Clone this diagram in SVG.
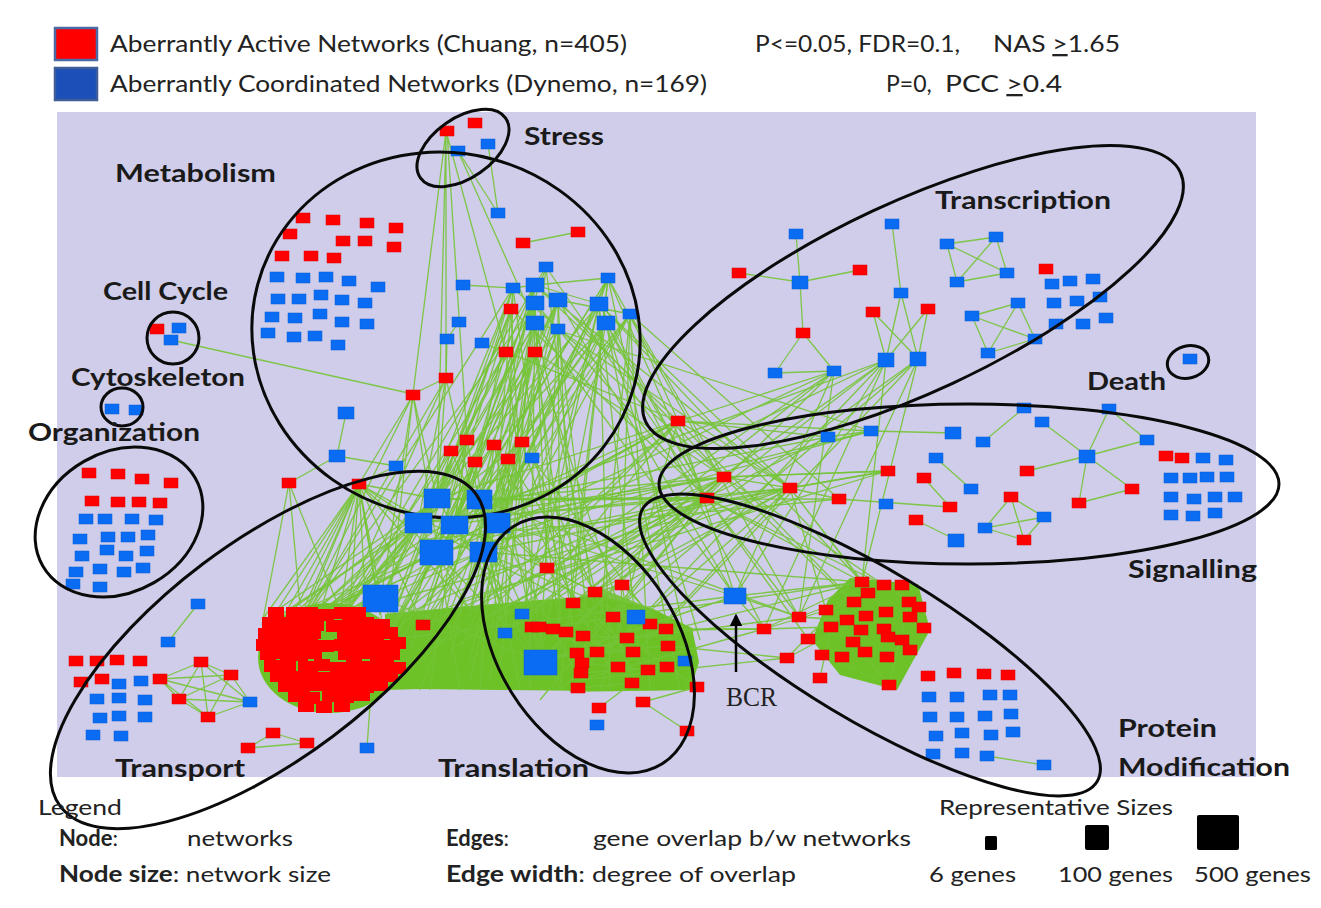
<svg xmlns="http://www.w3.org/2000/svg" xmlns:xlink="http://www.w3.org/1999/xlink" width="1321" height="908" viewBox="0 0 1321 908">
<style>
.t{font-family:Lato,"Liberation Sans",sans-serif;fill:#222}
.lb{font-family:Lato,"Liberation Sans",sans-serif;font-weight:bold;font-size:25px;fill:#1a1a1a}
.ring{fill:none;stroke:#0a0a0a;stroke-width:3}
.e{fill:none;stroke:#74c436;stroke-width:1.3;stroke-opacity:0.9}
.r{fill:#ff0000;stroke:#e00000;stroke-width:0.5}
.b{fill:#0a6cf2;stroke:#0a5ed6;stroke-width:0.5}
.gf{fill:#6cc226}
</style>
<defs>
<rect id="R" x="-7" y="-5" width="14" height="10" class="r"/>
<rect id="B" x="-7" y="-5" width="14" height="10" class="b"/>
<rect id="BM" x="-9" y="-7" width="18" height="14" class="b"/>
<rect id="RC" x="0" y="0" width="16" height="12" fill="#ff0000"/>
<marker id="arr" viewBox="0 0 10 10" refX="8" refY="5" markerWidth="5" markerHeight="5" orient="auto">
<path d="M0 0L10 5L0 10Z" fill="#000"/>
</marker>
</defs>

<rect x="0" y="0" width="1321" height="908" fill="#ffffff"/>
<rect x="57" y="112" width="1199" height="665" fill="#cfcde9"/>

<g id="legend-top">
<rect x="55" y="28" width="42" height="32" fill="#ff0000" stroke="#4a6aa5" stroke-width="2.5"/>
<rect x="55" y="68" width="42" height="32" fill="#1c4fb8" stroke="#3d5d9a" stroke-width="2.5"/>
<text class="t" x="110" y="52" font-size="23" textLength="517" lengthAdjust="spacingAndGlyphs">Aberrantly Active Networks (Chuang, n=405)</text>
<text class="t" x="110" y="92" font-size="23" textLength="597" lengthAdjust="spacingAndGlyphs">Aberrantly Coordinated Networks (Dynemo, n=169)</text>
<text class="t" x="755" y="52" font-size="23" textLength="205" lengthAdjust="spacingAndGlyphs">P&lt;=0.05, FDR=0.1,</text>
<text class="t" x="993" y="52" font-size="23" textLength="127" lengthAdjust="spacingAndGlyphs">NAS <tspan text-decoration="underline">&gt;</tspan>1.65</text>
<text class="t" x="886" y="92" font-size="23">P=0,</text>
<text class="t" x="945" y="92" font-size="23" textLength="117" lengthAdjust="spacingAndGlyphs">PCC <tspan text-decoration="underline">&gt;</tspan>0.4</text>
</g>

<g id="connectors">
<path class="gf" d="M385 614L470 606L540 600L600 596L655 610L692 628L699 662L690 690L600 691L500 690L420 689L385 690Z"/>
<ellipse class="gf" cx="330" cy="658" rx="72" ry="55"/>
<path class="gf" opacity="0.85" d="M530 620L600 588L660 612L692 640L684 690L570 692Z"/>
<path class="gf" d="M850 578L918 584L930 630L897 690L840 675L812 640L828 600Z"/>
<path class="e" d="M488 144L498 213M458 151L498 213M523 243L578 232M463 285L513 288M513 288L535 285M546 267L535 285M535 285L608 278M608 278L599 304M535 285L599 304M558 300L630 314M459 322L447 339M447 339L446 378M482 343L506 352M446 378L413 394M346 413L337 456M337 456L396 466M337 456L289 483M171 340L413 394"/>
<path class="e" d="M446 131L413 394M446 131L446 378M446 131L506 352M458 151L535 323M446 131L437 499M447 131L467 440"/>
<path class="e" d="M198 604L168 642M201 662L160 679M201 662L231 675M201 662L179 699M201 662L208 717M201 662L250 702M160 679L231 675M160 679L179 699M160 679L208 717M160 679L250 702M231 675L179 699M231 675L208 717M231 675L250 702M179 699L208 717M179 699L250 702M208 717L250 702M273 733L248 748M273 733L307 743M248 748L307 743M367 748L370 705"/>
<path class="e" d="M796 234L800 282M739 273L800 282M860 270L800 282M800 282L803 333M803 333L775 373M803 333L834 371M775 373L834 371M892 224L901 293M901 293L886 360M901 293L918 359M873 312L886 360M873 312L918 359M928 309L886 360M928 309L918 359M947 244L996 237M947 244L1007 273M947 244L957 282M996 237L1007 273M996 237L957 282M1007 273L957 282M972 316L1018 303M972 316L1035 339M972 316L988 353M1018 303L1035 339M1018 303L988 353M1035 339L988 353"/>
<path class="e" d="M1024 408L983 442M1042 422L1087 456M1109 409L1087 456M1109 409L1147 440M1147 440L1087 456M1027 471L1087 456M1087 456L1079 503M1087 456L1132 489M1079 503L1132 489M936 458L971 489M888 471L790 488M888 471L724 477M924 478L950 507M839 499L950 507M916 520L956 540M1011 497L985 528M1011 497L1044 517M1011 497L1024 540M985 528L1044 517M985 528L1024 540M1044 517L1024 540M871 431L953 433M828 437L871 431M987 756L1044 765"/>
<path class="e" d="M535 285L437 499M535 285L479 500M535 285L454 525M535 303L418 523M535 303L497 523M535 303L436 552M558 300L479 500M558 300L483 552M558 300L454 525M599 304L497 523M599 304L437 499M599 304L483 552M535 323L418 523M535 323L454 525M535 323L381 598M606 323L479 500M606 323L497 523M606 323L436 552M513 288L437 499M513 288L418 523M608 278L483 552M608 278L454 525M630 314L497 523M630 314L479 500M511 309L436 552M511 309L437 499M558 329L483 552M558 329L418 523M506 352L454 525M506 352L381 598M535 352L437 499M535 352L497 523M446 378L418 523M446 378L437 499M413 395L437 499M413 395L381 598M467 440L454 525M467 440L436 552M494 445L479 500M494 445L483 552M522 442L497 523M522 442L418 523M451 451L437 499M451 451L381 598M475 462L454 525M475 462L436 552M508 459L479 500M508 459L483 552M532 458L497 523M532 458L436 552"/>
<path class="e" d="M535 285L340 615M535 285L505 633M535 303L300 625M535 303L547 568M558 300L385 640M558 300L573 603M599 304L522 614M599 304L423 625M535 323L470 610M535 323L595 592M606 323L540 662M606 323L340 615M513 288L300 625M513 288L505 633M608 278L573 603M608 278L385 640M630 314L620 640M630 314L470 610M511 309L360 690M558 329L540 662M506 352L300 690M535 352L580 680M446 378L340 615M446 378L300 625M413 395L300 625M413 395L385 640M467 440L505 633M494 445L540 662M522 442L573 603M451 451L340 615M475 462L423 625M508 459L595 592M532 458L660 630M467 440L360 690M522 442L470 610M494 445L385 640"/>
<path class="e" d="M535 285L678 421M535 303L706 498M558 300L724 477M599 304L790 488M606 323L707 498M535 323L735 596M630 314L678 421M630 314L724 477M608 278L706 498M558 329L790 488M599 304L862 582M606 323L764 629M535 352L724 477M506 352L678 421M511 309L707 498M546 267L706 498M558 300L735 596M535 285L790 488M608 278L799 617M599 304L707 498M630 314L839 499M535 323L871 431M513 288L724 477"/>
<path class="e" d="M437 499L300 625M437 499L340 615M437 499L385 640M437 499L540 662M479 500L300 625M479 500L360 690M479 500L547 568M479 500L505 633M418 523L300 690M418 523L340 615M418 523L470 610M418 523L573 603M454 525L385 640M454 525L300 625M454 525L522 614M454 525L595 592M497 523L340 615M497 523L580 680M497 523L620 640M497 523L423 625M436 552L300 625M436 552L360 690M436 552L540 662M483 552L385 640M483 552L300 690M483 552L660 630M381 598L300 625M381 598L540 662M359 484L300 625M359 484L340 615M359 484L385 640M359 484L437 499M359 484L418 523M359 484L436 552M359 484L381 598M359 484L470 610M359 484L483 552M359 484L270 640M359 484L423 625M359 484L290 620"/>
<path class="e" d="M359 484L262 620M359 484L276 612M359 484L305 606M359 484L322 606M359 484L350 606M359 484L366 610M359 484L380 615M437 499L270 615M437 499L300 608M437 499L330 606M437 499L360 608M418 523L265 625M418 523L290 610M418 523L320 607M418 523L350 607M436 552L262 640M436 552L290 615M436 552L330 610M436 552L395 640M483 552L320 608M483 552L350 612M289 483L262 625M289 483L300 606M289 483L340 610M359 484L396 466M359 484L413 395"/>
<path class="e" d="M535 285L410 650M535 285L450 660M535 303L490 640M535 303L530 690M558 300L470 680M558 300L560 650M599 304L610 690M599 304L640 660M606 323L680 690M606 323L700 640M630 314L600 620M630 314L650 690M546 267L430 600M546 267L500 670M608 278L560 690M608 278L450 620M513 288L410 620M513 288L480 690M511 309L440 640M511 309L530 650M558 329L600 660M558 329L420 690M535 323L560 610M535 323L490 680M599 304L530 620M606 323L460 650M630 314L400 640M546 267L590 640M608 278L690 660M513 288L560 630M467 440L430 690M494 445L610 670M522 442L470 660M451 451L560 690M475 462L520 690M508 459L450 640M532 458L640 690M446 378L500 620M413 395L460 690M506 352L540 640M535 352L420 660M535 352L620 610"/>
<path class="e" d="M724 477L450 650M724 477L520 680M706 498L410 660M706 498L480 620M790 488L560 690M790 488L440 610M678 421L400 680M678 421L500 600M707 498L540 700M724 477L380 625M790 488L620 670M678 421L600 690M834 371L470 660M886 360L520 620M918 359L580 640M834 371L430 560M886 360L450 520M871 431L480 540M828 437L500 500M839 499L420 540M888 471L460 600M706 498L437 499M724 477L418 523M678 421L436 552M790 488L483 552"/>
<path class="e" d="M437 499L706 498M479 500L724 477M418 523L790 488M454 525L678 421M497 523L735 596M436 552L707 498M483 552L862 582M479 500L799 617M497 523L678 421M454 525L724 477M437 499L834 371M483 552L886 360M497 523L871 431M418 523L706 498M436 552L790 488M479 500L839 499"/>
<path class="e" d="M540 662L735 596M540 662L862 582M547 568L706 498M573 603L724 477M595 592L790 488M522 614L678 421M620 640L799 617M660 630L764 629M505 633L707 498M580 680L787 658M470 610L724 477M423 625L706 498M385 640L735 596M340 615L790 488M300 625L678 421M540 662L834 371M573 603L886 360M595 592L918 359M620 640L886 360M660 630L918 359M547 568L834 371M505 633L862 582M580 680L764 629"/>
<path class="e" d="M735 596L862 582M735 596L799 617M735 596L764 629M706 498L862 582M724 477L866 616M790 488L862 582M790 488L886 612M678 421L735 596M707 498L799 617M834 371L735 596M886 360L764 629M918 359L799 617M918 359L862 582M886 360L735 596M678 421L790 488M724 477L790 488M707 498L790 488M790 488L839 499M790 488L888 471M724 477L888 471M678 421L871 431M678 421L828 437M706 498L828 437M787 658L862 582M764 629L831 627M799 617L847 620M706 498L884 585M724 477L909 602M678 421L854 602M790 488L826 610M707 498L808 639M834 371L799 617M886 360L862 582"/>
<path class="e" d="M547 568L595 592M595 592L622 585M573 603L613 617M613 617L650 624M622 585L666 629M532 627L583 636M583 636L627 638M577 653L633 652M597 652L668 646M582 663L648 670M581 673L667 667M578 688L632 683M643 702L687 731M643 702L697 687M599 708L632 683M595 592L666 629M573 603L648 670M613 617L578 688M622 585L633 652M650 624L582 663M566 632L667 667M553 629L618 667M627 638L697 687M540 662L666 629M540 662L650 624M622 585L790 488M650 624L735 596M666 629L764 629M668 646L787 658M595 592L724 477M613 617L706 498"/>
<path class="e" d="M764 629L862 582M799 617L884 585M787 658L866 616M820 678L831 627M889 685L853 642M889 685L909 602M889 685L822 655M764 629L854 602"/>
</g>

<g id="stress">
<use href="#R" x="447" y="131"/><use href="#R" x="475" y="123"/><use href="#B" x="458" y="151"/><use href="#B" x="488" y="144"/><use href="#B" x="498" y="213"/>
<ellipse class="ring" cx="463" cy="148" rx="52" ry="30" transform="rotate(-35 463 148)"/>
<text class="lb" x="524" y="145" textLength="80" lengthAdjust="spacingAndGlyphs">Stress</text>
</g>

<g id="metabolism">
<use href="#R" x="303" y="218"/><use href="#R" x="333" y="220"/><use href="#R" x="367" y="223"/><use href="#R" x="396" y="228"/><use href="#R" x="290" y="234"/><use href="#R" x="343" y="241"/><use href="#R" x="365" y="241"/><use href="#R" x="394" y="247"/><use href="#R" x="282" y="256"/><use href="#R" x="311" y="256"/><use href="#R" x="334" y="258"/>
<use href="#B" x="277" y="277"/><use href="#B" x="303" y="278"/><use href="#B" x="326" y="277"/><use href="#B" x="349" y="281"/><use href="#B" x="378" y="287"/><use href="#B" x="278" y="299"/><use href="#B" x="299" y="299"/><use href="#B" x="321" y="295"/><use href="#B" x="342" y="300"/><use href="#B" x="365" y="303"/><use href="#B" x="272" y="317"/><use href="#B" x="295" y="318"/><use href="#B" x="320" y="314"/><use href="#B" x="342" y="322"/><use href="#B" x="367" y="324"/><use href="#B" x="268" y="333"/><use href="#B" x="294" y="337"/><use href="#B" x="315" y="336"/><use href="#B" x="338" y="345"/>
<use href="#R" x="523" y="243"/><use href="#R" x="578" y="232"/><use href="#R" x="511" y="309"/><use href="#R" x="506" y="352"/><use href="#R" x="535" y="352"/><use href="#R" x="446" y="378"/><use href="#R" x="413" y="395"/>
<use href="#B" x="546" y="267"/><use href="#B" x="608" y="278"/><use href="#B" x="463" y="285"/><use href="#B" x="513" y="288"/><use href="#B" x="558" y="329"/><use href="#B" x="630" y="314"/><use href="#B" x="459" y="322"/><use href="#B" x="447" y="339"/><use href="#B" x="482" y="343"/>
<use href="#BM" x="535" y="285"/><use href="#BM" x="535" y="303"/><use href="#BM" x="558" y="300"/><use href="#BM" x="599" y="304"/><use href="#BM" x="535" y="323"/><use href="#BM" x="606" y="323"/>
<rect class="b" x="338" y="407" width="16" height="12"/><rect class="b" x="329" y="450" width="16" height="12"/><use href="#B" x="396" y="466"/><use href="#R" x="289" y="483"/><use href="#R" x="359" y="484"/>
<ellipse class="ring" cx="446" cy="335" rx="195" ry="182" transform="rotate(15 446 335)"/>
<text class="lb" x="115" y="182" textLength="161" lengthAdjust="spacingAndGlyphs">Metabolism</text>
</g>

<g id="core">
<use href="#R" x="467" y="440"/><use href="#R" x="494" y="445"/><use href="#R" x="522" y="442"/><use href="#R" x="451" y="451"/><use href="#R" x="475" y="462"/><use href="#R" x="508" y="459"/><use href="#B" x="532" y="458"/><use href="#R" x="678" y="421"/>
<rect class="b" x="424" y="489" width="26" height="19"/><rect class="b" x="467" y="490" width="25" height="19"/><rect class="b" x="405" y="513" width="27" height="20"/><rect class="b" x="441" y="516" width="27" height="18"/><rect class="b" x="484" y="513" width="26" height="20"/><rect class="b" x="420" y="540" width="33" height="25"/><rect class="b" x="470" y="542" width="27" height="20"/><rect class="b" x="363" y="585" width="35" height="27"/>
</g>

<g id="cell-cycle">
<use href="#R" x="157" y="329"/><use href="#B" x="179" y="328"/><use href="#B" x="171" y="340"/>
<circle class="ring" cx="173" cy="338" r="26"/>
<text class="lb" x="103" y="300" textLength="125" lengthAdjust="spacingAndGlyphs">Cell Cycle</text>
</g>

<g id="cytoskeleton">
<use href="#B" x="112" y="409"/><use href="#B" x="136" y="410"/>
<ellipse class="ring" cx="122" cy="407" rx="21" ry="19"/>
<text class="lb" x="71" y="386" textLength="174" lengthAdjust="spacingAndGlyphs">Cytoskeleton</text>
</g>

<g id="organization">
<use href="#R" x="89" y="473"/><use href="#R" x="118" y="474"/><use href="#R" x="142" y="479"/><use href="#R" x="171" y="483"/><use href="#R" x="92" y="501"/><use href="#R" x="118" y="502"/><use href="#R" x="139" y="502"/><use href="#R" x="160" y="503"/>
<use href="#B" x="86" y="519"/><use href="#B" x="105" y="519"/><use href="#B" x="132" y="519"/><use href="#B" x="156" y="520"/><use href="#B" x="80" y="539"/><use href="#B" x="108" y="537"/><use href="#B" x="128" y="537"/><use href="#B" x="148" y="535"/><use href="#B" x="82" y="556"/><use href="#B" x="107" y="550"/><use href="#B" x="126" y="556"/><use href="#B" x="147" y="551"/><use href="#B" x="76" y="572"/><use href="#B" x="100" y="569"/><use href="#B" x="124" y="572"/><use href="#B" x="143" y="568"/><use href="#B" x="73" y="584"/><use href="#B" x="100" y="587"/>
<ellipse class="ring" cx="119" cy="522" rx="88" ry="70" transform="rotate(-30 119 522)"/>
<text class="lb" x="28" y="441" textLength="172" lengthAdjust="spacingAndGlyphs">Organization</text>
</g>

<g id="transport">
<use href="#B" x="198" y="604"/><use href="#B" x="168" y="642"/>
<use href="#R" x="76" y="661"/><use href="#R" x="97" y="661"/><use href="#R" x="117" y="660"/><use href="#R" x="140" y="661"/><use href="#R" x="81" y="682"/><use href="#R" x="102" y="679"/><use href="#B" x="119" y="684"/><use href="#B" x="141" y="681"/><use href="#B" x="97" y="699"/><use href="#B" x="119" y="698"/><use href="#B" x="145" y="700"/><use href="#B" x="100" y="718"/><use href="#B" x="119" y="716"/><use href="#B" x="145" y="717"/><use href="#B" x="93" y="735"/><use href="#B" x="121" y="736"/>
<use href="#R" x="201" y="662"/><use href="#R" x="160" y="679"/><use href="#R" x="231" y="675"/><use href="#R" x="179" y="699"/><use href="#R" x="208" y="717"/><use href="#B" x="250" y="702"/>
<use href="#R" x="273" y="733"/><use href="#R" x="248" y="748"/><use href="#R" x="307" y="743"/><use href="#B" x="367" y="748"/>
<use href="#RC" x="268" y="607"/><use href="#RC" x="286" y="607"/><use href="#RC" x="302" y="607"/><use href="#RC" x="318" y="609"/><use href="#RC" x="334" y="607"/><use href="#RC" x="350" y="607"/>
<use href="#RC" x="262" y="617"/><use href="#RC" x="278" y="617"/><use href="#RC" x="294" y="617"/><use href="#RC" x="308" y="619"/><use href="#RC" x="326" y="620"/><use href="#RC" x="342" y="617"/><use href="#RC" x="358" y="617"/><use href="#RC" x="374" y="619"/>
<use href="#RC" x="258" y="628"/><use href="#RC" x="274" y="627"/><use href="#RC" x="290" y="629"/><use href="#RC" x="305" y="627"/><use href="#RC" x="337" y="628"/><use href="#RC" x="352" y="627"/><use href="#RC" x="368" y="629"/><use href="#RC" x="382" y="627"/>
<use href="#RC" x="256" y="639"/><use href="#RC" x="270" y="637"/><use href="#RC" x="286" y="638"/><use href="#RC" x="302" y="637"/><use href="#RC" x="318" y="640"/><use href="#RC" x="334" y="639"/><use href="#RC" x="348" y="637"/><use href="#RC" x="364" y="638"/><use href="#RC" x="378" y="640"/><use href="#RC" x="390" y="637"/>
<use href="#RC" x="260" y="648"/><use href="#RC" x="276" y="647"/><use href="#RC" x="292" y="649"/><use href="#RC" x="306" y="647"/><use href="#RC" x="338" y="648"/><use href="#RC" x="354" y="647"/><use href="#RC" x="370" y="649"/><use href="#RC" x="384" y="648"/>
<use href="#RC" x="264" y="660"/><use href="#RC" x="280" y="659"/><use href="#RC" x="298" y="661"/><use href="#RC" x="314" y="659"/><use href="#RC" x="330" y="662"/><use href="#RC" x="346" y="659"/><use href="#RC" x="362" y="661"/><use href="#RC" x="378" y="659"/><use href="#RC" x="390" y="662"/>
<use href="#RC" x="270" y="670"/><use href="#RC" x="286" y="671"/><use href="#RC" x="302" y="669"/><use href="#RC" x="318" y="672"/><use href="#RC" x="334" y="670"/><use href="#RC" x="350" y="669"/><use href="#RC" x="366" y="671"/><use href="#RC" x="382" y="670"/>
<use href="#RC" x="278" y="680"/><use href="#RC" x="294" y="681"/><use href="#RC" x="310" y="679"/><use href="#RC" x="326" y="682"/><use href="#RC" x="342" y="680"/><use href="#RC" x="358" y="681"/><use href="#RC" x="372" y="679"/>
<use href="#RC" x="288" y="690"/><use href="#RC" x="304" y="692"/><use href="#RC" x="322" y="690"/><use href="#RC" x="338" y="691"/><use href="#RC" x="354" y="689"/>
<use href="#RC" x="298" y="700"/><use href="#RC" x="316" y="701"/><use href="#RC" x="334" y="700"/>
<ellipse class="ring" cx="268" cy="650" rx="260" ry="108" transform="rotate(-37 268 650)"/>
<text class="lb" x="115" y="777" textLength="130" lengthAdjust="spacingAndGlyphs">Transport</text>
</g>

<g id="translation">
<use href="#R" x="547" y="568"/><use href="#R" x="595" y="592"/><use href="#R" x="622" y="585"/><use href="#R" x="573" y="603"/><use href="#R" x="613" y="617"/><use href="#R" x="650" y="624"/><use href="#R" x="666" y="629"/><use href="#R" x="532" y="627"/><use href="#R" x="539" y="627"/><use href="#R" x="553" y="629"/><use href="#R" x="566" y="632"/><use href="#R" x="583" y="636"/><use href="#R" x="627" y="638"/><use href="#R" x="577" y="653"/><use href="#R" x="597" y="652"/><use href="#R" x="633" y="652"/><use href="#R" x="668" y="646"/><use href="#R" x="582" y="663"/><use href="#R" x="581" y="673"/><use href="#R" x="618" y="667"/><use href="#R" x="648" y="670"/><use href="#R" x="667" y="667"/><use href="#R" x="632" y="683"/><use href="#R" x="578" y="688"/><use href="#R" x="643" y="702"/><use href="#R" x="599" y="708"/><use href="#R" x="687" y="731"/><use href="#R" x="697" y="687"/><use href="#R" x="423" y="625"/>
<use href="#B" x="522" y="614"/><use href="#B" x="505" y="633"/><rect class="b" x="627" y="610" width="18" height="14"/><use href="#B" x="685" y="661"/><use href="#B" x="597" y="725"/>
<rect class="b" x="524" y="650" width="33" height="25"/>
<ellipse class="ring" cx="588" cy="645" rx="140" ry="90" transform="rotate(58 588 645)"/>
<text class="lb" x="438" y="777" textLength="151" lengthAdjust="spacingAndGlyphs">Translation</text>
</g>

<g id="transcription">
<use href="#B" x="796" y="234"/><use href="#R" x="739" y="273"/><rect class="b" x="792" y="276" width="16" height="13"/><use href="#R" x="860" y="270"/><use href="#R" x="803" y="333"/><use href="#B" x="775" y="373"/><use href="#B" x="834" y="371"/><use href="#B" x="892" y="224"/><use href="#B" x="901" y="293"/><use href="#R" x="873" y="312"/><use href="#R" x="928" y="309"/><rect class="b" x="878" y="353" width="16" height="14"/><rect class="b" x="910" y="352" width="16" height="14"/>
<use href="#B" x="947" y="244"/><use href="#B" x="996" y="237"/><use href="#B" x="1007" y="273"/><use href="#B" x="957" y="282"/><use href="#B" x="972" y="316"/><use href="#B" x="1018" y="303"/><use href="#B" x="1035" y="339"/><use href="#B" x="988" y="353"/>
<use href="#R" x="1046" y="269"/><use href="#B" x="1052" y="284"/><use href="#B" x="1070" y="281"/><use href="#B" x="1093" y="279"/><use href="#B" x="1054" y="303"/><use href="#B" x="1077" y="301"/><use href="#B" x="1100" y="297"/><use href="#B" x="1056" y="324"/><use href="#B" x="1083" y="324"/><use href="#B" x="1106" y="318"/>
<ellipse class="ring" cx="913" cy="297" rx="295" ry="95" transform="rotate(-25 913 297)"/>
<text class="lb" x="935" y="209" textLength="176" lengthAdjust="spacingAndGlyphs">Transcription</text>
</g>

<g id="death">
<use href="#B" x="1190" y="359"/>
<ellipse class="ring" cx="1188" cy="362" rx="21" ry="16" transform="rotate(-15 1188 362)"/>
<text class="lb" x="1087" y="390" textLength="79" lengthAdjust="spacingAndGlyphs">Death</text>
</g>

<g id="signalling">
<use href="#B" x="1024" y="408"/><use href="#B" x="1109" y="409"/><use href="#B" x="1042" y="422"/><use href="#B" x="828" y="437"/><use href="#B" x="871" y="431"/><rect class="b" x="945" y="427" width="16" height="12"/><use href="#B" x="983" y="442"/><use href="#B" x="1147" y="440"/><rect class="b" x="1079" y="450" width="16" height="13"/><use href="#B" x="936" y="458"/>
<use href="#R" x="1027" y="471"/><use href="#R" x="888" y="471"/><use href="#R" x="924" y="478"/><use href="#R" x="724" y="477"/><use href="#R" x="790" y="488"/><use href="#R" x="707" y="498"/><use href="#R" x="839" y="499"/><use href="#B" x="971" y="489"/><use href="#R" x="1132" y="489"/><use href="#R" x="1011" y="497"/><use href="#R" x="1079" y="503"/><use href="#B" x="886" y="504"/><use href="#R" x="950" y="507"/><use href="#R" x="916" y="520"/><use href="#B" x="1044" y="517"/><use href="#B" x="985" y="528"/><use href="#R" x="1024" y="540"/><rect class="b" x="948" y="534" width="16" height="13"/>
<use href="#R" x="1166" y="456"/><use href="#R" x="1182" y="458"/><use href="#B" x="1203" y="458"/><use href="#B" x="1226" y="460"/><use href="#B" x="1171" y="478"/><use href="#B" x="1190" y="478"/><use href="#B" x="1207" y="477"/><use href="#B" x="1227" y="477"/><use href="#B" x="1171" y="497"/><use href="#B" x="1194" y="499"/><use href="#B" x="1215" y="497"/><use href="#B" x="1235" y="497"/><use href="#B" x="1171" y="515"/><use href="#B" x="1193" y="516"/><use href="#B" x="1215" y="513"/>
<ellipse class="ring" cx="969" cy="484" rx="310" ry="80"/>
<text class="lb" x="1128" y="578" textLength="129" lengthAdjust="spacingAndGlyphs">Signalling</text>
</g>

<g id="protein-modification">
<use href="#R" x="862" y="582"/><use href="#R" x="884" y="585"/><use href="#R" x="902" y="585"/><use href="#R" x="868" y="593"/><use href="#R" x="854" y="602"/><use href="#R" x="909" y="602"/><use href="#R" x="919" y="607"/><use href="#R" x="826" y="610"/><use href="#R" x="886" y="612"/><use href="#R" x="799" y="617"/><use href="#R" x="847" y="620"/><use href="#R" x="866" y="616"/><use href="#R" x="910" y="617"/><use href="#R" x="764" y="629"/><use href="#R" x="831" y="627"/><use href="#R" x="861" y="630"/><use href="#R" x="884" y="629"/><use href="#R" x="924" y="628"/><use href="#R" x="808" y="639"/><use href="#R" x="853" y="642"/><use href="#R" x="888" y="637"/><use href="#R" x="902" y="640"/><use href="#R" x="910" y="650"/><use href="#R" x="865" y="652"/><use href="#R" x="787" y="658"/><use href="#R" x="822" y="655"/><use href="#R" x="842" y="657"/><use href="#R" x="887" y="657"/><use href="#R" x="820" y="678"/><use href="#R" x="889" y="685"/>
<use href="#R" x="928" y="676"/><use href="#R" x="954" y="673"/><use href="#R" x="984" y="674"/><use href="#R" x="1008" y="675"/>
<use href="#B" x="929" y="697"/><use href="#B" x="957" y="697"/><use href="#B" x="990" y="695"/><use href="#B" x="1010" y="695"/><use href="#B" x="930" y="717"/><use href="#B" x="957" y="717"/><use href="#B" x="985" y="716"/><use href="#B" x="1011" y="714"/><use href="#B" x="936" y="736"/><use href="#B" x="962" y="733"/><use href="#B" x="991" y="735"/><use href="#B" x="1013" y="732"/><use href="#B" x="933" y="754"/><use href="#B" x="962" y="753"/><use href="#B" x="987" y="756"/><use href="#B" x="1044" y="765"/>
<ellipse class="ring" cx="870" cy="645" rx="265" ry="75" transform="rotate(31 870 645)"/>
<text class="lb" x="1118" y="737" textLength="99" lengthAdjust="spacingAndGlyphs">Protein</text>
<text class="lb" x="1118" y="776" textLength="172" lengthAdjust="spacingAndGlyphs">Modification</text>
</g>

<g id="bcr">
<rect class="b" x="724" y="588" width="22" height="16"/>
<line x1="736" y1="672" x2="736" y2="616" stroke="#000" stroke-width="2.5" marker-end="url(#arr)"/>
<text x="726" y="706" font-family="'Liberation Serif',serif" font-size="27" fill="#222" textLength="51" lengthAdjust="spacingAndGlyphs">BCR</text>
</g>

<g id="legend-bottom">
<text class="t" x="38" y="815" font-size="21" textLength="84" lengthAdjust="spacingAndGlyphs">Legend</text>
<text class="t" x="59" y="846" font-size="22"><tspan font-weight="bold">Node</tspan>:</text>
<text class="t" x="187" y="846" font-size="22" textLength="106" lengthAdjust="spacingAndGlyphs">networks</text>
<text class="t" x="59" y="882" font-size="22" textLength="272" lengthAdjust="spacingAndGlyphs"><tspan font-weight="bold">Node size</tspan>: network size</text>
<text class="t" x="446" y="846" font-size="22"><tspan font-weight="bold">Edges</tspan>:</text>
<text class="t" x="593" y="846" font-size="22" textLength="318" lengthAdjust="spacingAndGlyphs">gene overlap b/w networks</text>
<text class="t" x="446" y="882" font-size="22" textLength="350" lengthAdjust="spacingAndGlyphs"><tspan font-weight="bold">Edge width</tspan>: degree of overlap</text>
<text class="t" x="939" y="815" font-size="22" textLength="234" lengthAdjust="spacingAndGlyphs">Representative Sizes</text>
<rect x="985" y="836" width="12" height="14" rx="1.5" fill="#000"/>
<rect x="1085" y="825" width="24" height="25" rx="2" fill="#000"/>
<rect x="1197" y="815" width="42" height="35" rx="2" fill="#000"/>
<text class="t" x="929" y="882" font-size="22" textLength="87" lengthAdjust="spacingAndGlyphs">6 genes</text>
<text class="t" x="1058" y="882" font-size="22" textLength="115" lengthAdjust="spacingAndGlyphs">100 genes</text>
<text class="t" x="1194" y="882" font-size="22" textLength="117" lengthAdjust="spacingAndGlyphs">500 genes</text>
</g>
</svg>
